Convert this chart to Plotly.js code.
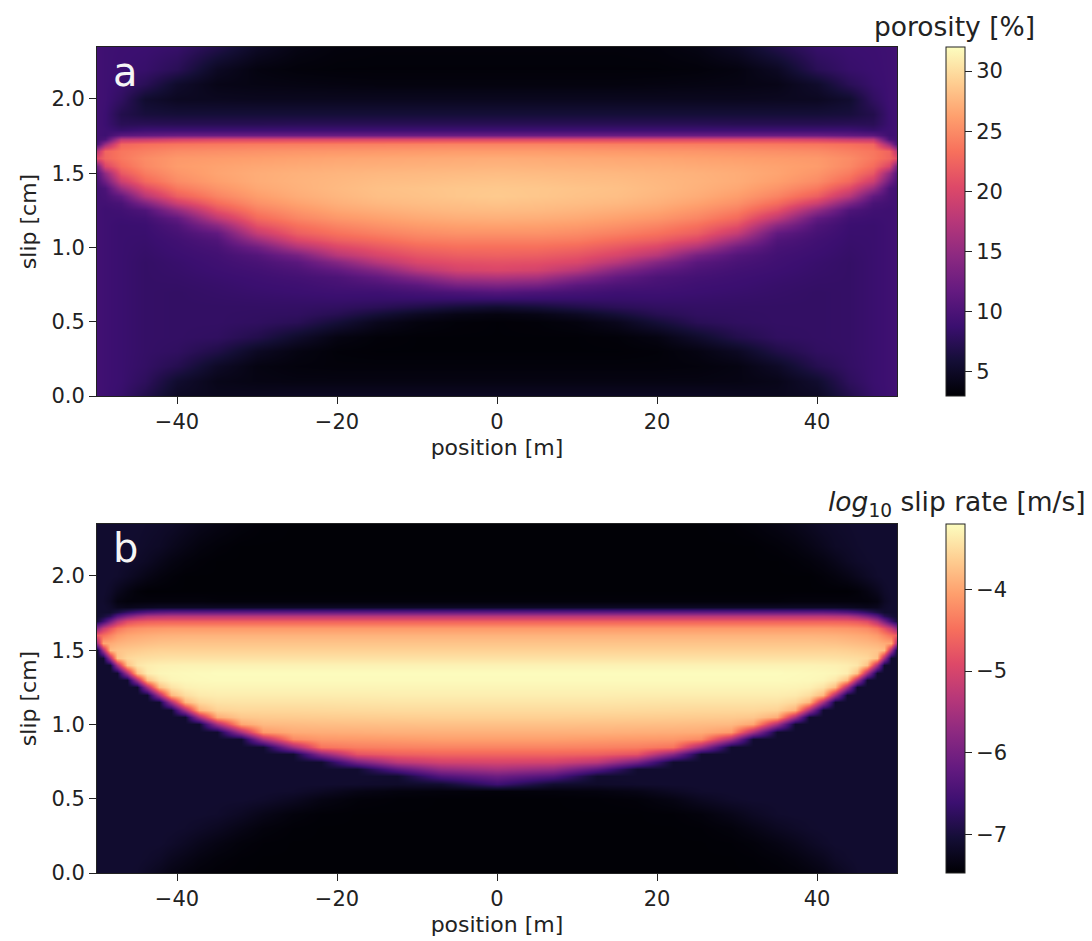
<!DOCTYPE html>
<html><head><meta charset="utf-8">
<script src="https://cdn.plot.ly/plotly-3.0.1.min.js"></script>
<style>html,body{margin:0;padding:0;background:#fff}</style></head>
<body><div id="chart" style="width:1092px;height:941px"></div>
<script>
const slipRows=[0,.1,.2,.3,.4,.5,.55,.6,.65,.7,.75,.8,.85,.9,.95,1,1.05,1.1,1.15,1.2,1.25,1.3,1.35,1.4,1.45,1.5,1.55,1.6,1.65,1.7,1.73,1.76,1.79,1.83,1.9,2,2.1,2.2,2.36];
const porosityPositions=[-50,-49,-47,-44,-40,-35,-30,-25,-20,-15,-10,-5,0];
const porosityLeft=[
[9.3,9,8.5,7,4.8,4.5,4.6,4.8,4.8,4.8,4.8,4.8,4.8],
[9.3,9,8.7,7.8,5.5,4.2,3.9,3.8,3.8,3.8,3.8,3.8,3.8],
[9.3,9,8.7,8.2,7.2,5,3.8,3.5,3.4,3.4,3.4,3.4,3.4],
[9.3,9,8.7,8.3,8,6.8,4.8,3.8,3.3,3.2,3.2,3.2,3.2],
[9.3,9,8.7,8.3,8.2,8,7,5.3,3.8,3.3,3.2,3.2,3.2],
[9.3,9,8.7,8.3,8.2,8.2,8,7.5,6,4.4,3.6,3.3,3.2],
[9.3,9,8.7,8.3,8.2,8.2,8.1,8,7.3,6,4.8,4,3.7],
[9.3,9,8.7,8.3,8.2,8.2,8.2,8.2,8,7.5,6.8,6,5.5],
[9.3,9,8.7,8.3,8.2,8.3,8.4,8.5,8.6,8.5,8.5,8.5,8.5],
[9.3,9,8.7,8.3,8.2,8.4,8.6,8.8,9,9,9.5,10,10.5],
[9.3,9,8.7,8.3,8.3,8.5,8.8,9,9.5,10,11,13,13.5],
[9.3,9,8.7,8.3,8.4,8.7,9,9.4,10,11.5,14,16.5,17],
[9.3,9,8.7,8.3,8.5,8.9,9.3,10,11.5,14,17.5,19.5,20],
[9.3,9,8.7,8.3,8.6,9.1,9.8,11,14,17.5,20,20.8,21],
[9.3,9,8.7,8.4,8.8,9.3,10.5,13,17.5,19.8,21.3,22,22.2],
[9.3,9,8.7,8.5,9,9.7,12.5,17,20,21.5,22.7,23.2,23.2],
[9.3,9,8.7,8.6,9.2,10.3,15.5,20,22,23,24,24.3,24.3],
[9.3,9,8.7,8.7,9.6,11.5,18.5,22,23.4,24.3,25,25.4,25.4],
[9.3,9,8.7,8.8,10.2,14.5,21,23.3,24.6,25.4,26,26.3,26.4],
[9.3,9,8.9,9.2,11.5,18,22.8,24.6,25.7,26.3,26.8,27.1,27.2],
[9.3,9,9.2,10.2,15,21,24.2,25.6,26.6,27.1,27.5,27.8,27.9],
[9.3,9.3,9.8,13.5,19,23,25.3,26.4,27.2,27.7,28,28.2,28.4],
[9.3,9.6,11.5,17.5,22,24.5,26.1,27,27.6,28.1,28.3,28.6,28.8],
[9.3,10,15.5,20.5,23.8,25.5,26.7,27.3,27.8,28.2,28.4,28.6,28.7],
[9.8,12.5,19,22.8,25,26.2,27,27.4,27.7,28,28.1,28.3,28.4],
[10.5,15,21.5,24,25.6,26.5,27,27.3,27.5,27.7,27.8,27.9,28],
[13,20,23,24.8,26,26.4,26.7,26.9,27.1,27.2,27.3,27.4,27.5],
[20.5,22.5,23.8,25,25.8,26,26.2,26.4,26.6,26.7,26.8,26.9,27],
[17.5,22.5,23.7,24.3,25,25.2,25.4,25.6,25.7,25.8,25.9,26,26],
[10,15.5,22.5,23.2,23.6,23.8,24,24.1,24.2,24.3,24.4,24.5,24.5],
[9.3,10,18,18.5,19.5,20,20,20,20,20,20,20,20],
[9.3,9,11,11.5,12,12,12,12,12,12,12,12,12],
[9.3,9,8.5,9,9,9,9,9,9,9,9,9,9],
[9.3,8.8,7.5,7.5,7.4,7.4,7.4,7.5,7.5,7.5,7.5,7.5,7.5],
[9.3,8.8,7,6.2,6,6,6,6,6,6,6,6,6],
[9.3,9,8,5.5,4.7,4.6,4.5,4.5,4.5,4.5,4.5,4.5,4.5],
[9.3,9,8.6,7.5,5.3,4.1,3.9,3.8,3.7,3.6,3.6,3.6,3.6],
[9.3,9,8.8,8.5,7.5,4.8,3.7,3.4,3.3,3.3,3.3,3.3,3.3],
[9.3,9,8.9,8.8,8.5,7,5,3.9,3.5,3.4,3.4,3.4,3.4]
];
const slipRatePositions=[-50,-49.2,-48.4,-47.5,-46.2,-45,-43.8,-42.3,-40.8,-39,-37.2,-35,-32,-29.3,-25.5,-22,-17.5,-12.5,-7,0];
const slipRateLeft=[
[-7.1,-7.1,-7.1,-7.1,-7.1,-7.12,-7.18,-7.25,-7.33,-7.38,-7.42,-7.44,-7.45,-7.45,-7.45,-7.45,-7.45,-7.45,-7.45,-7.45],
[-7.1,-7.1,-7.1,-7.1,-7.1,-7.1,-7.12,-7.16,-7.24,-7.3,-7.36,-7.41,-7.44,-7.45,-7.45,-7.45,-7.45,-7.45,-7.45,-7.45],
[-7.1,-7.1,-7.1,-7.1,-7.1,-7.1,-7.1,-7.1,-7.14,-7.2,-7.27,-7.34,-7.41,-7.44,-7.45,-7.45,-7.45,-7.45,-7.45,-7.45],
[-7.1,-7.1,-7.1,-7.1,-7.1,-7.1,-7.1,-7.1,-7.1,-7.12,-7.16,-7.22,-7.32,-7.4,-7.44,-7.45,-7.45,-7.45,-7.45,-7.45],
[-7.1,-7.1,-7.1,-7.1,-7.1,-7.1,-7.1,-7.1,-7.1,-7.1,-7.1,-7.12,-7.2,-7.3,-7.4,-7.44,-7.45,-7.45,-7.45,-7.45],
[-7.1,-7.1,-7.1,-7.1,-7.1,-7.1,-7.1,-7.1,-7.1,-7.1,-7.1,-7.1,-7.1,-7.13,-7.22,-7.34,-7.42,-7.44,-7.45,-7.45],
[-7.1,-7.1,-7.1,-7.1,-7.1,-7.1,-7.1,-7.1,-7.1,-7.1,-7.1,-7.1,-7.1,-7.1,-7.12,-7.2,-7.32,-7.38,-7.4,-7.42],
[-7.1,-7.1,-7.1,-7.1,-7.1,-7.1,-7.1,-7.1,-7.1,-7.1,-7.1,-7.1,-7.1,-7.1,-7.1,-7.1,-7.12,-7.15,-7.1,-6.6],
[-7.1,-7.1,-7.1,-7.1,-7.1,-7.1,-7.1,-7.1,-7.1,-7.1,-7.1,-7.1,-7.1,-7.1,-7.1,-7.1,-7.1,-7.1,-6.4,-6.1],
[-7.1,-7.1,-7.1,-7.1,-7.1,-7.1,-7.1,-7.1,-7.1,-7.1,-7.1,-7.1,-7.1,-7.1,-7.1,-7.1,-7.1,-6.3,-5.7,-5.5],
[-7.1,-7.1,-7.1,-7.1,-7.1,-7.1,-7.1,-7.1,-7.1,-7.1,-7.1,-7.1,-7.1,-7.1,-7.1,-7.1,-6,-5.3,-5.05,-5],
[-7.1,-7.1,-7.1,-7.1,-7.1,-7.1,-7.1,-7.1,-7.1,-7.1,-7.1,-7.1,-7.1,-7.1,-7.1,-5.8,-4.8,-4.65,-4.6,-4.6],
[-7.1,-7.1,-7.1,-7.1,-7.1,-7.1,-7.1,-7.1,-7.1,-7.1,-7.1,-7.1,-7.1,-7.1,-5.6,-4.45,-4.35,-4.32,-4.3,-4.3],
[-7.1,-7.1,-7.1,-7.1,-7.1,-7.1,-7.1,-7.1,-7.1,-7.1,-7.1,-7.1,-7.1,-5.5,-4.25,-4.12,-4.1,-4.08,-4.05,-4.05],
[-7.1,-7.1,-7.1,-7.1,-7.1,-7.1,-7.1,-7.1,-7.1,-7.1,-7.1,-7.1,-5.5,-4.1,-3.95,-3.93,-3.92,-3.9,-3.9,-3.9],
[-7.1,-7.1,-7.1,-7.1,-7.1,-7.1,-7.1,-7.1,-7.1,-7.1,-7.1,-5.5,-4,-3.82,-3.8,-3.78,-3.77,-3.76,-3.75,-3.75],
[-7.1,-7.1,-7.1,-7.1,-7.1,-7.1,-7.1,-7.1,-7.1,-7.1,-5.5,-3.95,-3.7,-3.67,-3.66,-3.65,-3.64,-3.63,-3.62,-3.62],
[-7.1,-7.1,-7.1,-7.1,-7.1,-7.1,-7.1,-7.1,-7.1,-5.5,-3.9,-3.6,-3.55,-3.55,-3.55,-3.54,-3.53,-3.52,-3.52,-3.52],
[-7.1,-7.1,-7.1,-7.1,-7.1,-7.1,-7.1,-7.1,-5.5,-3.85,-3.55,-3.45,-3.44,-3.44,-3.44,-3.44,-3.43,-3.42,-3.42,-3.42],
[-7.1,-7.1,-7.1,-7.1,-7.1,-7.1,-7.1,-5.5,-3.85,-3.5,-3.38,-3.35,-3.35,-3.35,-3.35,-3.35,-3.35,-3.34,-3.34,-3.34],
[-7.1,-7.1,-7.1,-7.1,-7.1,-7.1,-5.5,-3.8,-3.45,-3.32,-3.29,-3.28,-3.28,-3.28,-3.28,-3.28,-3.28,-3.28,-3.28,-3.28],
[-7.1,-7.1,-7.1,-7.1,-7.1,-5.5,-3.8,-3.4,-3.28,-3.25,-3.24,-3.23,-3.23,-3.23,-3.23,-3.23,-3.23,-3.23,-3.23,-3.23],
[-7.1,-7.1,-7.1,-7.1,-5.5,-3.75,-3.35,-3.27,-3.25,-3.24,-3.23,-3.22,-3.22,-3.22,-3.22,-3.22,-3.22,-3.22,-3.22,-3.22],
[-7.1,-7.1,-7.1,-5.5,-3.75,-3.42,-3.35,-3.32,-3.31,-3.3,-3.3,-3.3,-3.3,-3.3,-3.3,-3.3,-3.3,-3.3,-3.3,-3.3],
[-7.1,-7.1,-5.5,-3.75,-3.55,-3.5,-3.48,-3.46,-3.45,-3.45,-3.45,-3.45,-3.45,-3.45,-3.45,-3.45,-3.45,-3.45,-3.45,-3.45],
[-7.1,-5.5,-3.8,-3.72,-3.68,-3.65,-3.62,-3.6,-3.6,-3.6,-3.6,-3.6,-3.6,-3.6,-3.6,-3.6,-3.6,-3.6,-3.6,-3.6],
[-5.6,-4,-3.95,-3.88,-3.83,-3.8,-3.77,-3.74,-3.73,-3.72,-3.72,-3.72,-3.72,-3.72,-3.72,-3.72,-3.72,-3.72,-3.72,-3.72],
[-4.7,-4.5,-4.3,-4.1,-4,-3.96,-3.93,-3.9,-3.89,-3.88,-3.88,-3.88,-3.88,-3.88,-3.88,-3.88,-3.88,-3.88,-3.88,-3.88],
[-5.8,-5.2,-4.8,-4.45,-4.25,-4.18,-4.14,-4.12,-4.1,-4.1,-4.1,-4.1,-4.1,-4.1,-4.1,-4.1,-4.1,-4.1,-4.1,-4.1],
[-7,-6.6,-6,-5.4,-4.9,-4.75,-4.68,-4.65,-4.65,-4.65,-4.65,-4.65,-4.65,-4.65,-4.65,-4.65,-4.65,-4.65,-4.65,-4.65],
[-7.1,-7,-6.8,-6.3,-5.9,-5.6,-5.4,-5.35,-5.3,-5.3,-5.3,-5.3,-5.3,-5.3,-5.3,-5.3,-5.3,-5.3,-5.3,-5.3],
[-7.1,-7.1,-7.1,-6.95,-6.7,-6.5,-6.35,-6.25,-6.2,-6.2,-6.2,-6.2,-6.2,-6.2,-6.2,-6.2,-6.2,-6.2,-6.2,-6.2],
[-7.1,-7.1,-7.15,-7.25,-7.28,-7.25,-7.22,-7.2,-7.2,-7.2,-7.2,-7.2,-7.2,-7.2,-7.2,-7.2,-7.2,-7.2,-7.2,-7.2],
[-7.1,-7.12,-7.2,-7.35,-7.4,-7.4,-7.4,-7.4,-7.4,-7.4,-7.4,-7.42,-7.42,-7.42,-7.42,-7.42,-7.42,-7.42,-7.42,-7.42],
[-7.1,-7.1,-7.15,-7.25,-7.35,-7.42,-7.45,-7.45,-7.45,-7.45,-7.45,-7.45,-7.45,-7.45,-7.45,-7.45,-7.45,-7.45,-7.45,-7.45],
[-7.1,-7.1,-7.1,-7.12,-7.18,-7.25,-7.32,-7.38,-7.42,-7.45,-7.45,-7.45,-7.45,-7.45,-7.45,-7.45,-7.45,-7.45,-7.45,-7.45],
[-7.1,-7.1,-7.1,-7.1,-7.12,-7.15,-7.2,-7.28,-7.35,-7.4,-7.43,-7.45,-7.45,-7.45,-7.45,-7.45,-7.45,-7.45,-7.45,-7.45],
[-7.1,-7.1,-7.1,-7.1,-7.1,-7.12,-7.15,-7.18,-7.25,-7.32,-7.38,-7.42,-7.45,-7.45,-7.45,-7.45,-7.45,-7.45,-7.45,-7.45],
[-7.1,-7.1,-7.1,-7.1,-7.1,-7.1,-7.12,-7.14,-7.16,-7.22,-7.28,-7.34,-7.4,-7.44,-7.45,-7.45,-7.45,-7.45,-7.45,-7.45]
];
const porosityTicks=[5,10,15,20,25,30];
const slipRateTicks=[-7,-6,-5,-4];
const xTicks=[-40,-20,0,20,40];
const yTicks=[0,0.5,1,1.5,2];
const magma=[[0,'#000004'],[.1,'#140e36'],[.2,'#3b0f70'],[.3,'#641a80'],[.4,'#8c2981'],[.5,'#b73779'],[.6,'#de4968'],[.7,'#f7705c'],[.8,'#fe9f6d'],[.9,'#fecf92'],[1,'#fcfdbf']];
const FONT='"DejaVu Sans"', W=1092, H=941, INK='#222';
const fullRow=r=>r.concat(r.slice(0,-1).reverse());
const fullPos=p=>p.concat(p.slice(0,-1).reverse().map(v=>-v));
const minusText=v=>String(v).replace('-','\u2212');
const cbar=(top,bottom,ticks)=>({x:946/W,xanchor:'left',xpad:0,y:1-bottom/H,yanchor:'bottom',ypad:0,
  len:(bottom-top)/H,lenmode:'fraction',thickness:19,thicknessmode:'pixels',
  outlinecolor:INK,outlinewidth:1,tickmode:'array',tickvals:ticks,ticktext:ticks.map(minusText),ticks:'outside',ticklen:7,tickcolor:INK,tickwidth:1,
  tickfont:{family:FONT,size:21,color:INK}});
const heat=(pos,z,zmin,zmax,xa,ya,cb)=>({type:'heatmap',x:fullPos(pos),y:slipRows,z:z.map(fullRow),zmin,zmax,zsmooth:'best',
  colorscale:magma,xaxis:xa,yaxis:ya,colorbar:cb,hoverinfo:'skip'});
const axis=o=>Object.assign({showgrid:false,zeroline:false,ticks:'outside',ticklen:7,tickwidth:1,tickcolor:INK,
  showline:true,mirror:true,linecolor:INK,linewidth:1,tickfont:{family:FONT,size:21,color:INK},tickmode:'array'},o);
const titleFont={family:FONT,size:22,color:INK};
const xAxis=(anchor)=>axis({domain:[97/W,897/W],range:[-50,50],anchor,tickvals:xTicks,ticktext:xTicks.map(minusText),title:{text:'position [m]',font:titleFont,standoff:6}});
const yAxis=(anchor,top,bottom)=>axis({domain:[1-bottom/H,1-top/H],range:[0,2.35],anchor,tickvals:yTicks,ticktext:yTicks.map(v=>v.toFixed(1)),title:{text:'slip [cm]',font:titleFont,standoff:8}});
const note=(text,x,y,size,color,anchor)=>({text,xref:'paper',yref:'paper',x:x/W,y:1-y/H,xanchor:anchor,yanchor:'middle',showarrow:false,font:{family:FONT,size,color}});
const layout={width:W,height:H,margin:{l:0,r:0,t:0,b:0},paper_bgcolor:'#fff',plot_bgcolor:'#000',showlegend:false,
  xaxis:xAxis('y'),yaxis:yAxis('x',47,396),xaxis2:xAxis('y2'),yaxis2:yAxis('x2',524,873),
  annotations:[
   note('a',125,72,40,'#f5f5f5','center'),
   note('b',125,548,40,'#f5f5f5','center'),
   note('porosity [%]',1037,27,26.5,INK,'right'),
   note('<i>log</i><sub>10</sub> slip rate [m/s]',1088,503,26.5,INK,'right')
  ]};
Plotly.newPlot('chart',[
  heat(porosityPositions,porosityLeft,3,32,'x','y',cbar(47,396,porosityTicks)),
  heat(slipRatePositions,slipRateLeft,-7.47,-3.2,'x2','y2',cbar(524,873,slipRateTicks))
],layout,{displayModeBar:false,staticPlot:true});
</script></body></html>
